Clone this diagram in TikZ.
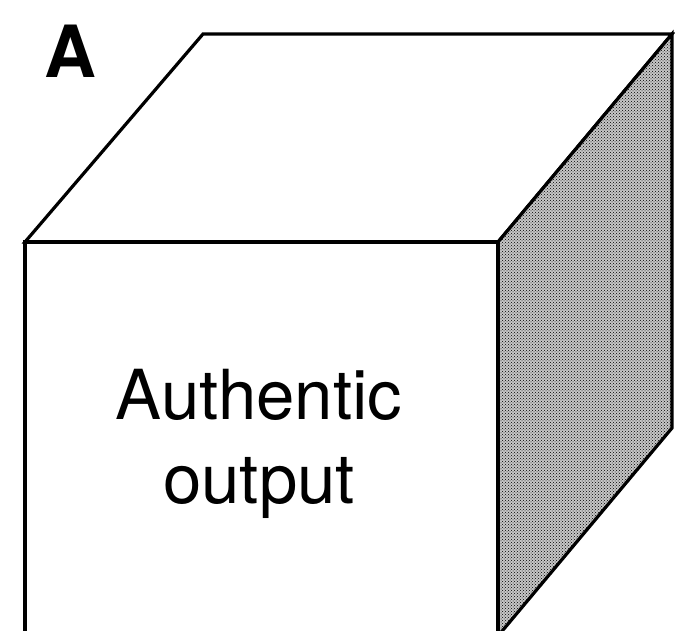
\documentclass[tikz,border=0pt]{standalone}
\usepackage{fontspec}
\setsansfont{TeX Gyre Heros}
\usetikzlibrary{patterns}
\begin{document}
\begin{tikzpicture}[
    x=1pt, y=-1pt,
    edge/.style={line width=3.2pt, line join=miter},
    face/.style={edge, fill=white},
    sideface/.style={edge, pattern=crosshatch dots, pattern color=black},
    facetext/.style={font=\sffamily\fontsize{69}{84}\selectfont, align=center},
    tag/.style={font=\sffamily\bfseries\fontsize{72}{72}\selectfont},
  ]
    \useasboundingbox (0,0) rectangle (675,631);
    \clip (0,0) rectangle (675,631);
    % cube corners
    \coordinate (ftl) at (25,242);
    \coordinate (ftr) at (498,242);
    \coordinate (btl) at (203,34);
    \coordinate (btr) at (672,34);
    \coordinate (bbr) at (672,428);
    \coordinate (fbr) at (498,636);
    \coordinate (fbl) at (25,636);

    \draw[face] (ftl) -- (btl) -- (btr) -- (ftr) -- cycle;
    \fill[black!22] (ftr) -- (btr) -- (bbr) -- (fbr) -- cycle;
    \draw[sideface] (ftr) -- (btr) -- (bbr) -- (fbr) -- cycle;
    \draw[face] (ftl) -- (ftr) -- (fbr) -- (fbl) -- cycle;

    \node[facetext] (out) at (259,444) {Authentic\\output};
    \node[tag, anchor=base] (pA) at (70,78) {A};
  \end{tikzpicture}
\end{document}
